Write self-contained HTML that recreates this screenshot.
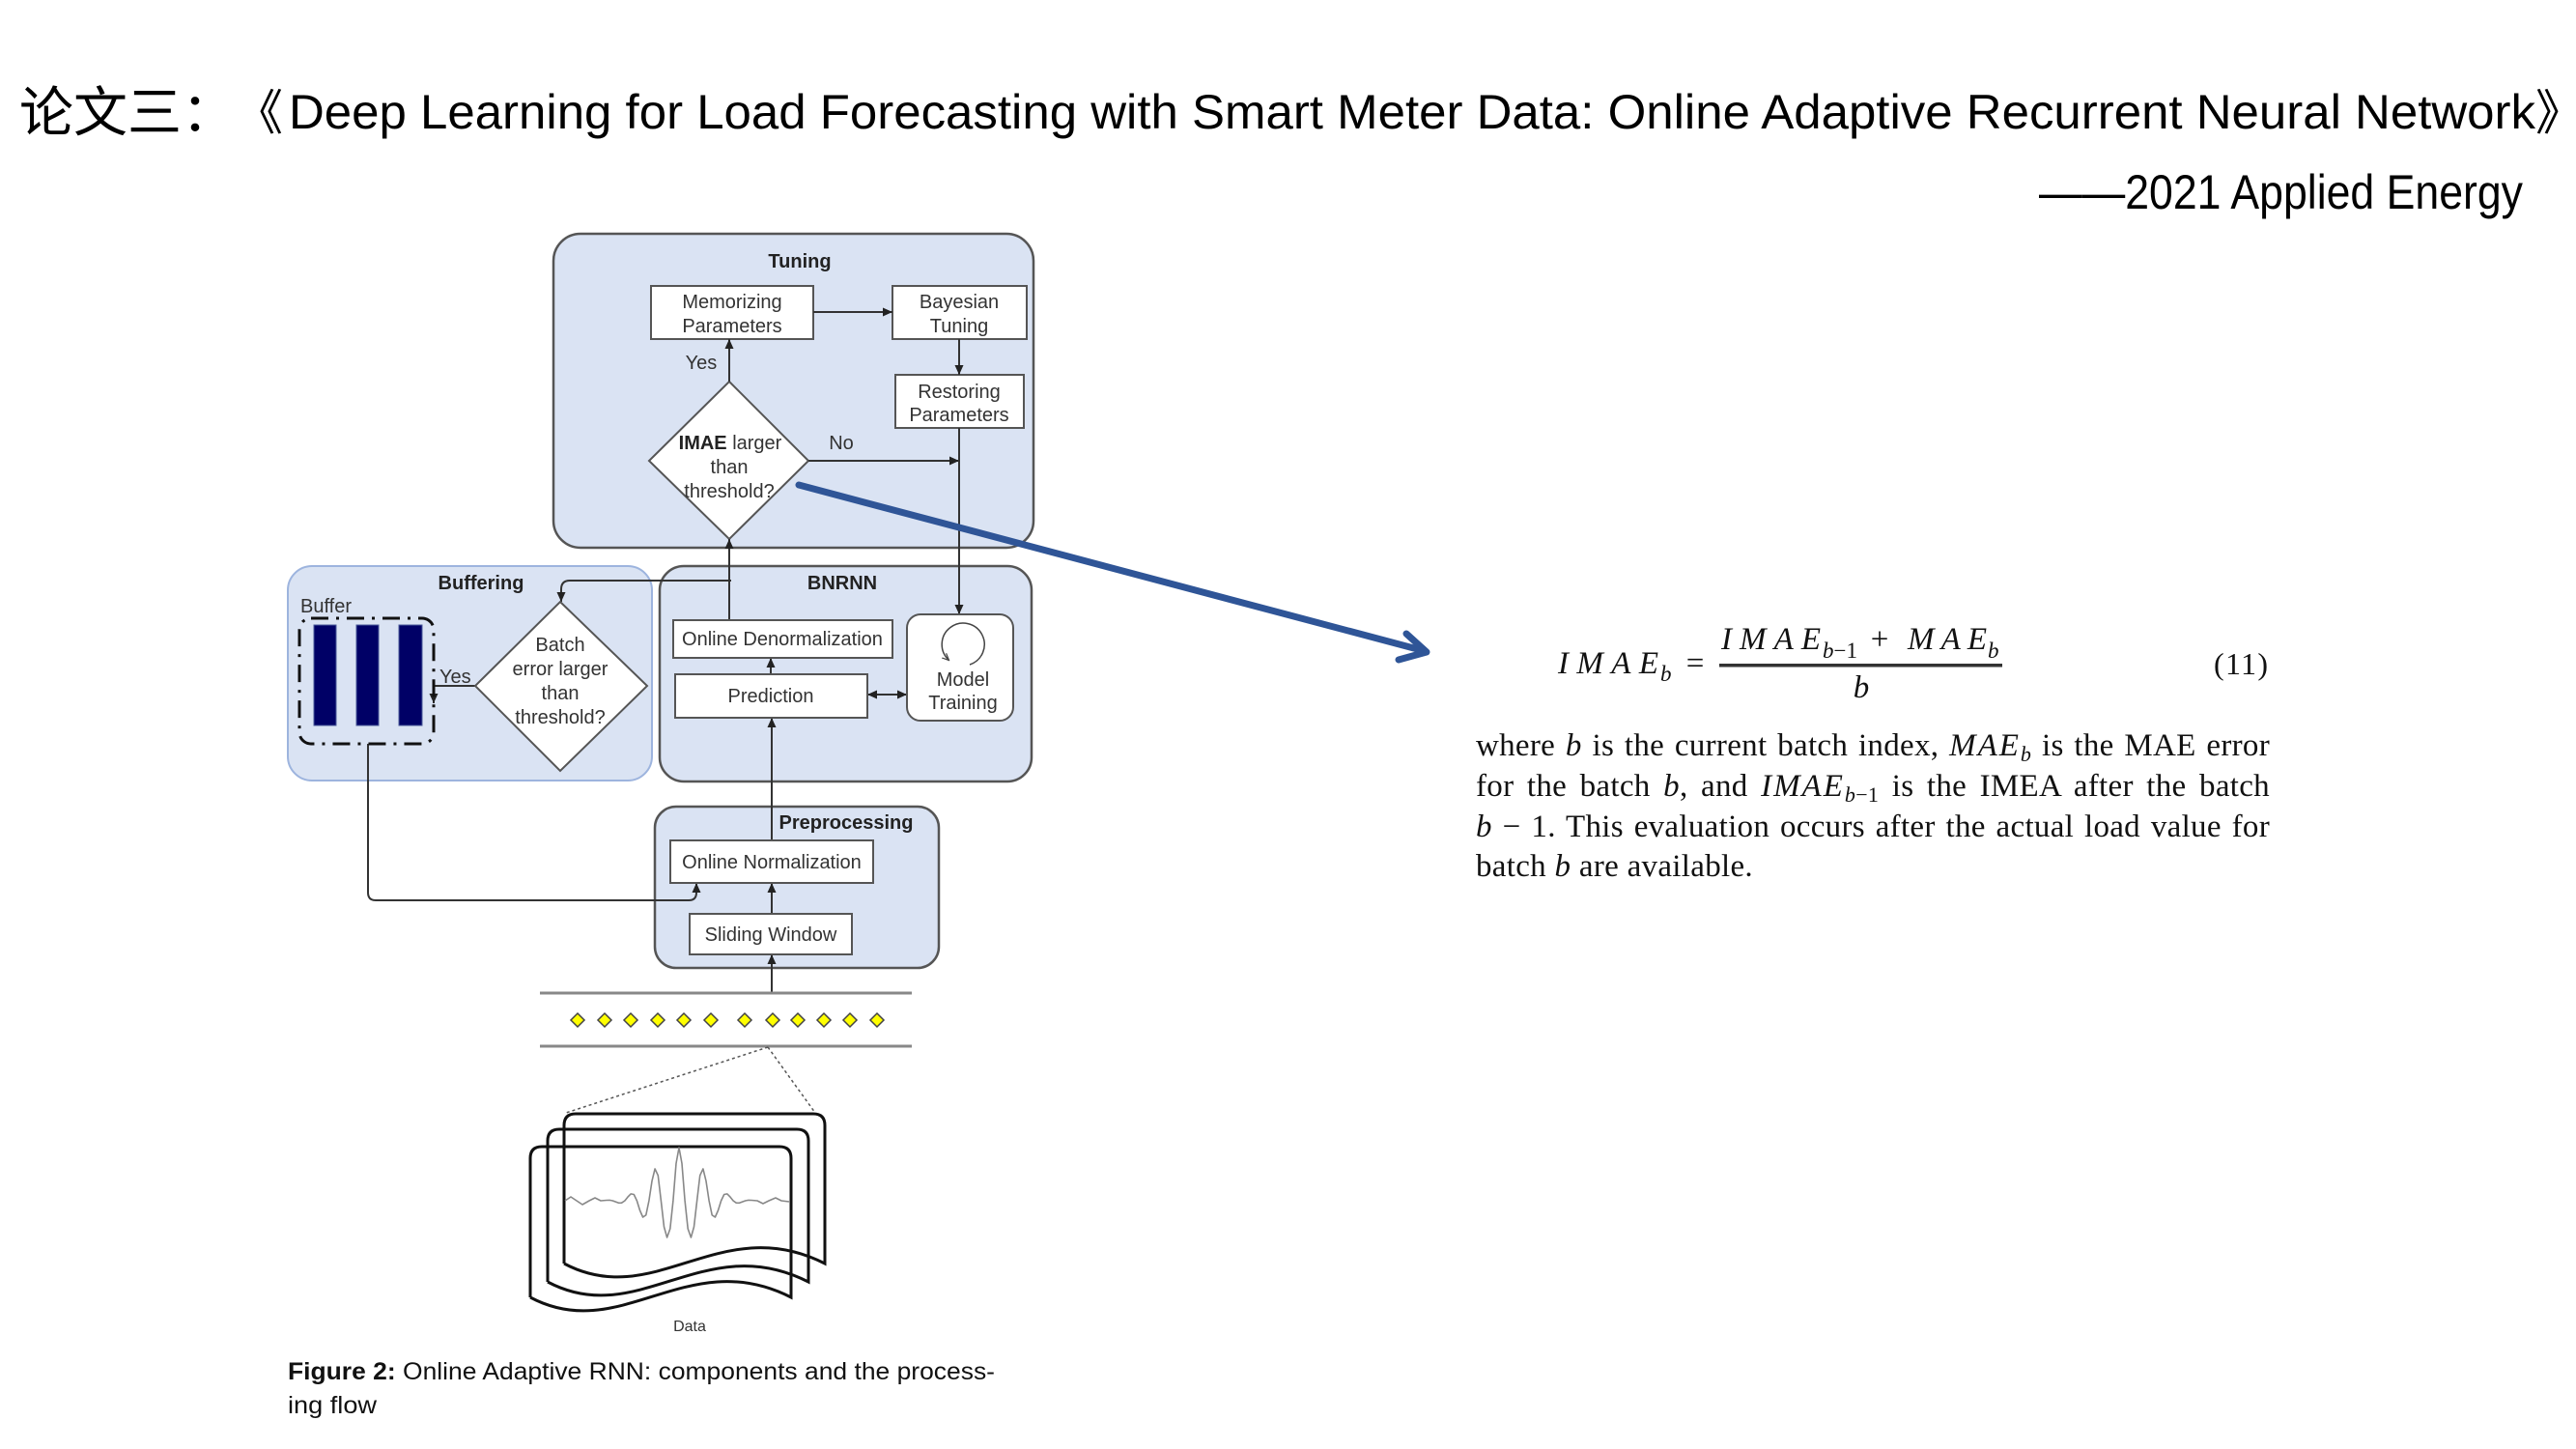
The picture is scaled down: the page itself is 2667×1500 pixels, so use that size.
<!DOCTYPE html>
<html>
<head>
<meta charset="utf-8">
<style>
  html,body{margin:0;padding:0;background:#fff;}
  body{width:2667px;height:1500px;overflow:hidden;position:relative;}
  svg{position:absolute;left:0;top:0;}
  .d{font-family:"Liberation Sans",Arial,sans-serif;font-size:20px;fill:#333;}
  .b{font-weight:bold;fill:#222;}
  .m{font-family:"Liberation Serif","Times New Roman",serif;fill:#111;}
  .p{position:absolute;left:1528px;width:822px;height:42px;font-family:"Liberation Serif","Times New Roman",serif;font-size:33px;line-height:42px;letter-spacing:0.3px;color:#111;text-align:justify;text-align-last:justify;}
  .p i.mv{letter-spacing:2px;}
  .p sub{font-size:22px;line-height:0;vertical-align:-6px;}
</style>
</head>
<body>
<svg width="2667" height="1500" viewBox="0 0 2667 1500" xmlns="http://www.w3.org/2000/svg">
  <defs>
    <marker id="a" viewBox="0 0 10 10" refX="10" refY="5" markerWidth="10" markerHeight="10" orient="auto-start-reverse" markerUnits="userSpaceOnUse">
      <path d="M0,0.5 L10,5 L0,9.5 z" fill="#222"/>
    </marker>
    <marker id="s" viewBox="0 0 10 10" refX="8" refY="5" markerWidth="8" markerHeight="8" orient="auto" markerUnits="userSpaceOnUse">
      <path d="M0,1 L9,5 L0,9" fill="none" stroke="#444" stroke-width="1.5"/>
    </marker>
  </defs>

  <!-- Title -->
  <text x="20" y="136" font-family="'Noto Sans CJK SC','WenQuanYi Zen Hei',sans-serif" font-size="56" fill="#000">论文三：</text>
  <text x="243" y="134" font-family="'Noto Sans CJK SC','WenQuanYi Zen Hei',sans-serif" font-size="50" fill="#000">《</text>
  <text x="299" y="133" font-family="'Liberation Sans',sans-serif" font-size="50" fill="#000" textLength="2326" lengthAdjust="spacingAndGlyphs">Deep Learning for Load Forecasting with Smart Meter Data: Online Adaptive Recurrent Neural Network</text>
  <text x="2625" y="134" font-family="'Noto Sans CJK SC','WenQuanYi Zen Hei',sans-serif" font-size="50" fill="#000">》</text>
  <text x="2111" y="216" font-family="'Liberation Sans','Noto Sans CJK SC',sans-serif" font-size="50" fill="#000" textLength="501" lengthAdjust="spacingAndGlyphs">——2021 Applied Energy</text>

  <!-- Group containers -->
  <rect x="573" y="242" width="497" height="325" rx="28" fill="#dae3f3" stroke="#555" stroke-width="2.5"/>
  <rect x="298" y="586" width="377" height="222" rx="25" fill="#dae3f3" stroke="#9db4de" stroke-width="2"/>
  <rect x="683" y="586" width="385" height="223" rx="25" fill="#dae3f3" stroke="#555" stroke-width="2.5"/>
  <rect x="678" y="835" width="294" height="167" rx="22" fill="#dae3f3" stroke="#555" stroke-width="2.5"/>

  <!-- Tuning -->
  <text class="d b" x="828" y="277" text-anchor="middle">Tuning</text>
  <rect x="674" y="296" width="168" height="55" fill="#fff" stroke="#555" stroke-width="2"/>
  <text class="d" x="758" y="319" text-anchor="middle">Memorizing</text>
  <text class="d" x="758" y="344" text-anchor="middle">Parameters</text>
  <rect x="924" y="296" width="139" height="55" fill="#fff" stroke="#555" stroke-width="2"/>
  <text class="d" x="993" y="319" text-anchor="middle">Bayesian</text>
  <text class="d" x="993" y="344" text-anchor="middle">Tuning</text>
  <rect x="927" y="388" width="133" height="55" fill="#fff" stroke="#555" stroke-width="2"/>
  <text class="d" x="993" y="412" text-anchor="middle">Restoring</text>
  <text class="d" x="993" y="436" text-anchor="middle">Parameters</text>
  <polygon points="755,395 837,477 755,558 672,477" fill="#fff" stroke="#555" stroke-width="2"/>
  <text class="d" x="756" y="465" text-anchor="middle"><tspan font-weight="bold" fill="#222">IMAE</tspan> larger</text>
  <text class="d" x="755" y="490" text-anchor="middle">than</text>
  <text class="d" x="755" y="515" text-anchor="middle">threshold?</text>
  <text class="d" x="726" y="382" text-anchor="middle">Yes</text>
  <text class="d" x="871" y="465" text-anchor="middle">No</text>

  <g stroke="#333" stroke-width="2" fill="none">
    <line x1="842" y1="323" x2="924" y2="323" marker-end="url(#a)"/>
    <line x1="993" y1="351" x2="993" y2="388" marker-end="url(#a)"/>
    <line x1="755" y1="395" x2="755" y2="351" marker-end="url(#a)"/>
    <line x1="837" y1="477" x2="993" y2="477" marker-end="url(#a)"/>
    <line x1="993" y1="443" x2="993" y2="636" marker-end="url(#a)"/>
    <line x1="755" y1="642" x2="755" y2="558" marker-end="url(#a)"/>
    <path d="M757,601 H590 Q581,601 581,610 V623" marker-end="url(#a)"/>
    <line x1="798" y1="698" x2="798" y2="681" marker-end="url(#a)"/>
    <line x1="799" y1="870" x2="799" y2="743" marker-end="url(#a)"/>
    <line x1="898" y1="719" x2="939" y2="719" marker-start="url(#a)" marker-end="url(#a)"/>
    <path d="M492,710 H449 V728" marker-end="url(#a)"/>
    <path d="M381,770 V924 Q381,932 389,932 H713 Q721,932 721,924 V914" marker-end="url(#a)"/>
    <line x1="799" y1="946" x2="799" y2="914" marker-end="url(#a)"/>
    <line x1="799" y1="1028" x2="799" y2="988" marker-end="url(#a)"/>
  </g>

  <!-- Buffering -->
  <text class="d b" x="498" y="610" text-anchor="middle">Buffering</text>
  <text class="d" x="311" y="634">Buffer</text>
  <rect x="325" y="647" width="23" height="104" fill="#000066" stroke="#4a5a9a" stroke-width="1"/>
  <rect x="369" y="647" width="23" height="104" fill="#000066" stroke="#4a5a9a" stroke-width="1"/>
  <rect x="413" y="647" width="24" height="104" fill="#000066" stroke="#4a5a9a" stroke-width="1"/>
  <rect x="310" y="640" width="139" height="130" rx="12" fill="none" stroke="#111" stroke-width="3" stroke-dasharray="18,8,3,8"/>
  <text class="d" x="455" y="707">Yes</text>
  <polygon points="580,623 670,710 580,798 492,710" fill="#fff" stroke="#555" stroke-width="2"/>
  <text class="d" x="580" y="674" text-anchor="middle">Batch</text>
  <text class="d" x="580" y="699" text-anchor="middle">error larger</text>
  <text class="d" x="580" y="724" text-anchor="middle">than</text>
  <text class="d" x="580" y="749" text-anchor="middle">threshold?</text>

  <!-- BNRNN -->
  <text class="d b" x="872" y="610" text-anchor="middle">BNRNN</text>
  <rect x="697" y="642" width="227" height="39" fill="#fff" stroke="#555" stroke-width="2"/>
  <text class="d" x="810" y="668" text-anchor="middle">Online Denormalization</text>
  <rect x="699" y="698" width="199" height="45" fill="#fff" stroke="#555" stroke-width="2"/>
  <text class="d" x="798" y="727" text-anchor="middle">Prediction</text>
  <rect x="939" y="636" width="110" height="110" rx="14" fill="#fff" stroke="#555" stroke-width="2"/>
  <path d="M1004,688 A22,22 0 1 0 982,683" fill="none" stroke="#444" stroke-width="1.5" marker-end="url(#s)"/>
  <text class="d" x="997" y="710" text-anchor="middle">Model</text>
  <text class="d" x="997" y="734" text-anchor="middle">Training</text>

  <!-- Preprocessing -->
  <text class="d b" x="876" y="858" text-anchor="middle">Preprocessing</text>
  <rect x="694" y="870" width="210" height="44" fill="#fff" stroke="#555" stroke-width="2"/>
  <text class="d" x="799" y="899" text-anchor="middle">Online Normalization</text>
  <rect x="714" y="946" width="168" height="42" fill="#fff" stroke="#555" stroke-width="2"/>
  <text class="d" x="798" y="974" text-anchor="middle">Sliding Window</text>

  <!-- data strip -->
  <line x1="559" y1="1028" x2="944" y2="1028" stroke="#888" stroke-width="3"/>
  <line x1="559" y1="1083" x2="944" y2="1083" stroke="#888" stroke-width="3"/>
  <g fill="#ffff00" stroke="#444" stroke-width="1.5">
    <polygon points="598,1049 605,1056 598,1063 591,1056"/>
    <polygon points="626,1049 633,1056 626,1063 619,1056"/>
    <polygon points="653,1049 660,1056 653,1063 646,1056"/>
    <polygon points="681,1049 688,1056 681,1063 674,1056"/>
    <polygon points="708,1049 715,1056 708,1063 701,1056"/>
    <polygon points="736,1049 743,1056 736,1063 729,1056"/>
    <polygon points="771,1049 778,1056 771,1063 764,1056"/>
    <polygon points="800,1049 807,1056 800,1063 793,1056"/>
    <polygon points="826,1049 833,1056 826,1063 819,1056"/>
    <polygon points="853,1049 860,1056 853,1063 846,1056"/>
    <polygon points="880,1049 887,1056 880,1063 873,1056"/>
    <polygon points="908,1049 915,1056 908,1063 901,1056"/>
  </g>

  <!-- dotted zoom lines -->
  <g stroke="#555" stroke-width="1.5" stroke-dasharray="3,3" fill="none">
    <line x1="795" y1="1084" x2="586" y2="1152"/>
    <line x1="795" y1="1084" x2="844" y2="1152"/>
  </g>

  <!-- documents -->
  <g fill="none" stroke="#111" stroke-width="3">
    <path d="M584,1308 V1165 Q584,1153 596,1153 H842 Q854,1153 854,1165 V1308 C746,1253 678,1358 584,1308"/>
    <path d="M567,1327 V1181 Q567,1169 579,1169 H825 Q837,1169 837,1181 V1327 C729,1272 661,1377 567,1327"/>
    <path d="M549,1343 V1199 Q549,1187 561,1187 H807 Q819,1187 819,1199 V1343 C711,1288 643,1393 549,1343"/>
  </g>
  <polyline fill="none" stroke="#888" stroke-width="1.6" stroke-linejoin="round"
    points="585,1243 591,1239 597,1243 603,1247 610,1243 616,1240 622,1243 628,1242.5 631.1,1242.4 634.3,1243 637.4,1244.1 640.5,1245.3 643.6,1245.2 646.9,1243 650,1239.1 653.1,1235.9 656.3,1236.5 659.4,1243 662.5,1253 665.6,1260 668.8,1257.8 671.9,1243 675,1222.6 678.1,1210 681.3,1216.8 684.4,1243 687.5,1270 690.6,1281 693.8,1272 696.9,1243 700,1204.4 703,1188 706,1204.4 709.1,1243 712.2,1272 715.4,1281 718.5,1270 721.6,1243 724.7,1216.8 727.9,1210 731,1222.6 734.1,1243 737.2,1257.8 740.4,1260 743.5,1253 746.6,1243 749.7,1236.5 752.9,1235.9 756,1239.1 759.1,1243 762.2,1245.2 765.5,1245.3 768.6,1244.1 771.7,1243 774.9,1242.4 778,1242.5 784,1243 790,1246 796,1243 803,1240 809,1243 817,1244"/>
  <text class="d" x="714" y="1378" text-anchor="middle" style="font-size:16px">Data</text>

  <!-- caption -->
  <text x="298" y="1428" font-family="'Liberation Sans',sans-serif" font-size="25" fill="#111" textLength="732" lengthAdjust="spacingAndGlyphs"><tspan font-weight="bold">Figure 2:</tspan> Online Adaptive RNN: components and the process-</text>
  <text x="298" y="1463" font-family="'Liberation Sans',sans-serif" font-size="25" fill="#111" textLength="92" lengthAdjust="spacingAndGlyphs">ing flow</text>

  <!-- formula -->
  <g class="m">
    <text x="1613" y="697" font-size="33" font-style="italic" textLength="104" lengthAdjust="spacing">IMAE</text>
    <text x="1719" y="705" font-size="23" font-style="italic">b</text>
    <text x="1755" y="697" font-size="33" text-anchor="middle">=</text>
    <text x="1782" y="672" font-size="33" font-style="italic" textLength="103" lengthAdjust="spacing">IMAE</text>
    <text x="1887" y="681" font-size="23"><tspan font-style="italic">b</tspan>−1</text>
    <text x="1946" y="672" font-size="33" text-anchor="middle">+</text>
    <text x="1975" y="672" font-size="33" font-style="italic" textLength="82" lengthAdjust="spacing">MAE</text>
    <text x="2058" y="681" font-size="23" font-style="italic">b</text>
    <text x="1927" y="722" font-size="33" font-style="italic" text-anchor="middle">b</text>
    <text x="2292" y="698" font-size="32" textLength="56" lengthAdjust="spacing">(11)</text>
  </g>
  <rect x="1780" y="687" width="293" height="3.5" fill="#333"/>

  <!-- blue arrow -->
  <g stroke="#2f5597" stroke-width="7" stroke-linecap="round" stroke-linejoin="round" fill="none">
    <line x1="827" y1="502" x2="1475" y2="674"/>
    <polyline points="1456,656 1477,675 1448,683"/>
  </g>
</svg>

<!-- paragraph -->
<div class="p" style="top:751px;">where <i>b</i> is the current batch index, <i class="mv">MAE</i><sub><i>b</i></sub> is the MAE error</div>
<div class="p" style="top:793px;">for the batch <i>b</i>, and <i class="mv">IMAE</i><sub><i>b</i>−1</sub> is the IMEA after the batch</div>
<div class="p" style="top:835px;"><i>b</i> − 1. This evaluation occurs after the actual load value for</div>
<div class="p" style="top:876px;text-align:left;text-align-last:left;">batch <i>b</i> are available.</div>
</body>
</html>
